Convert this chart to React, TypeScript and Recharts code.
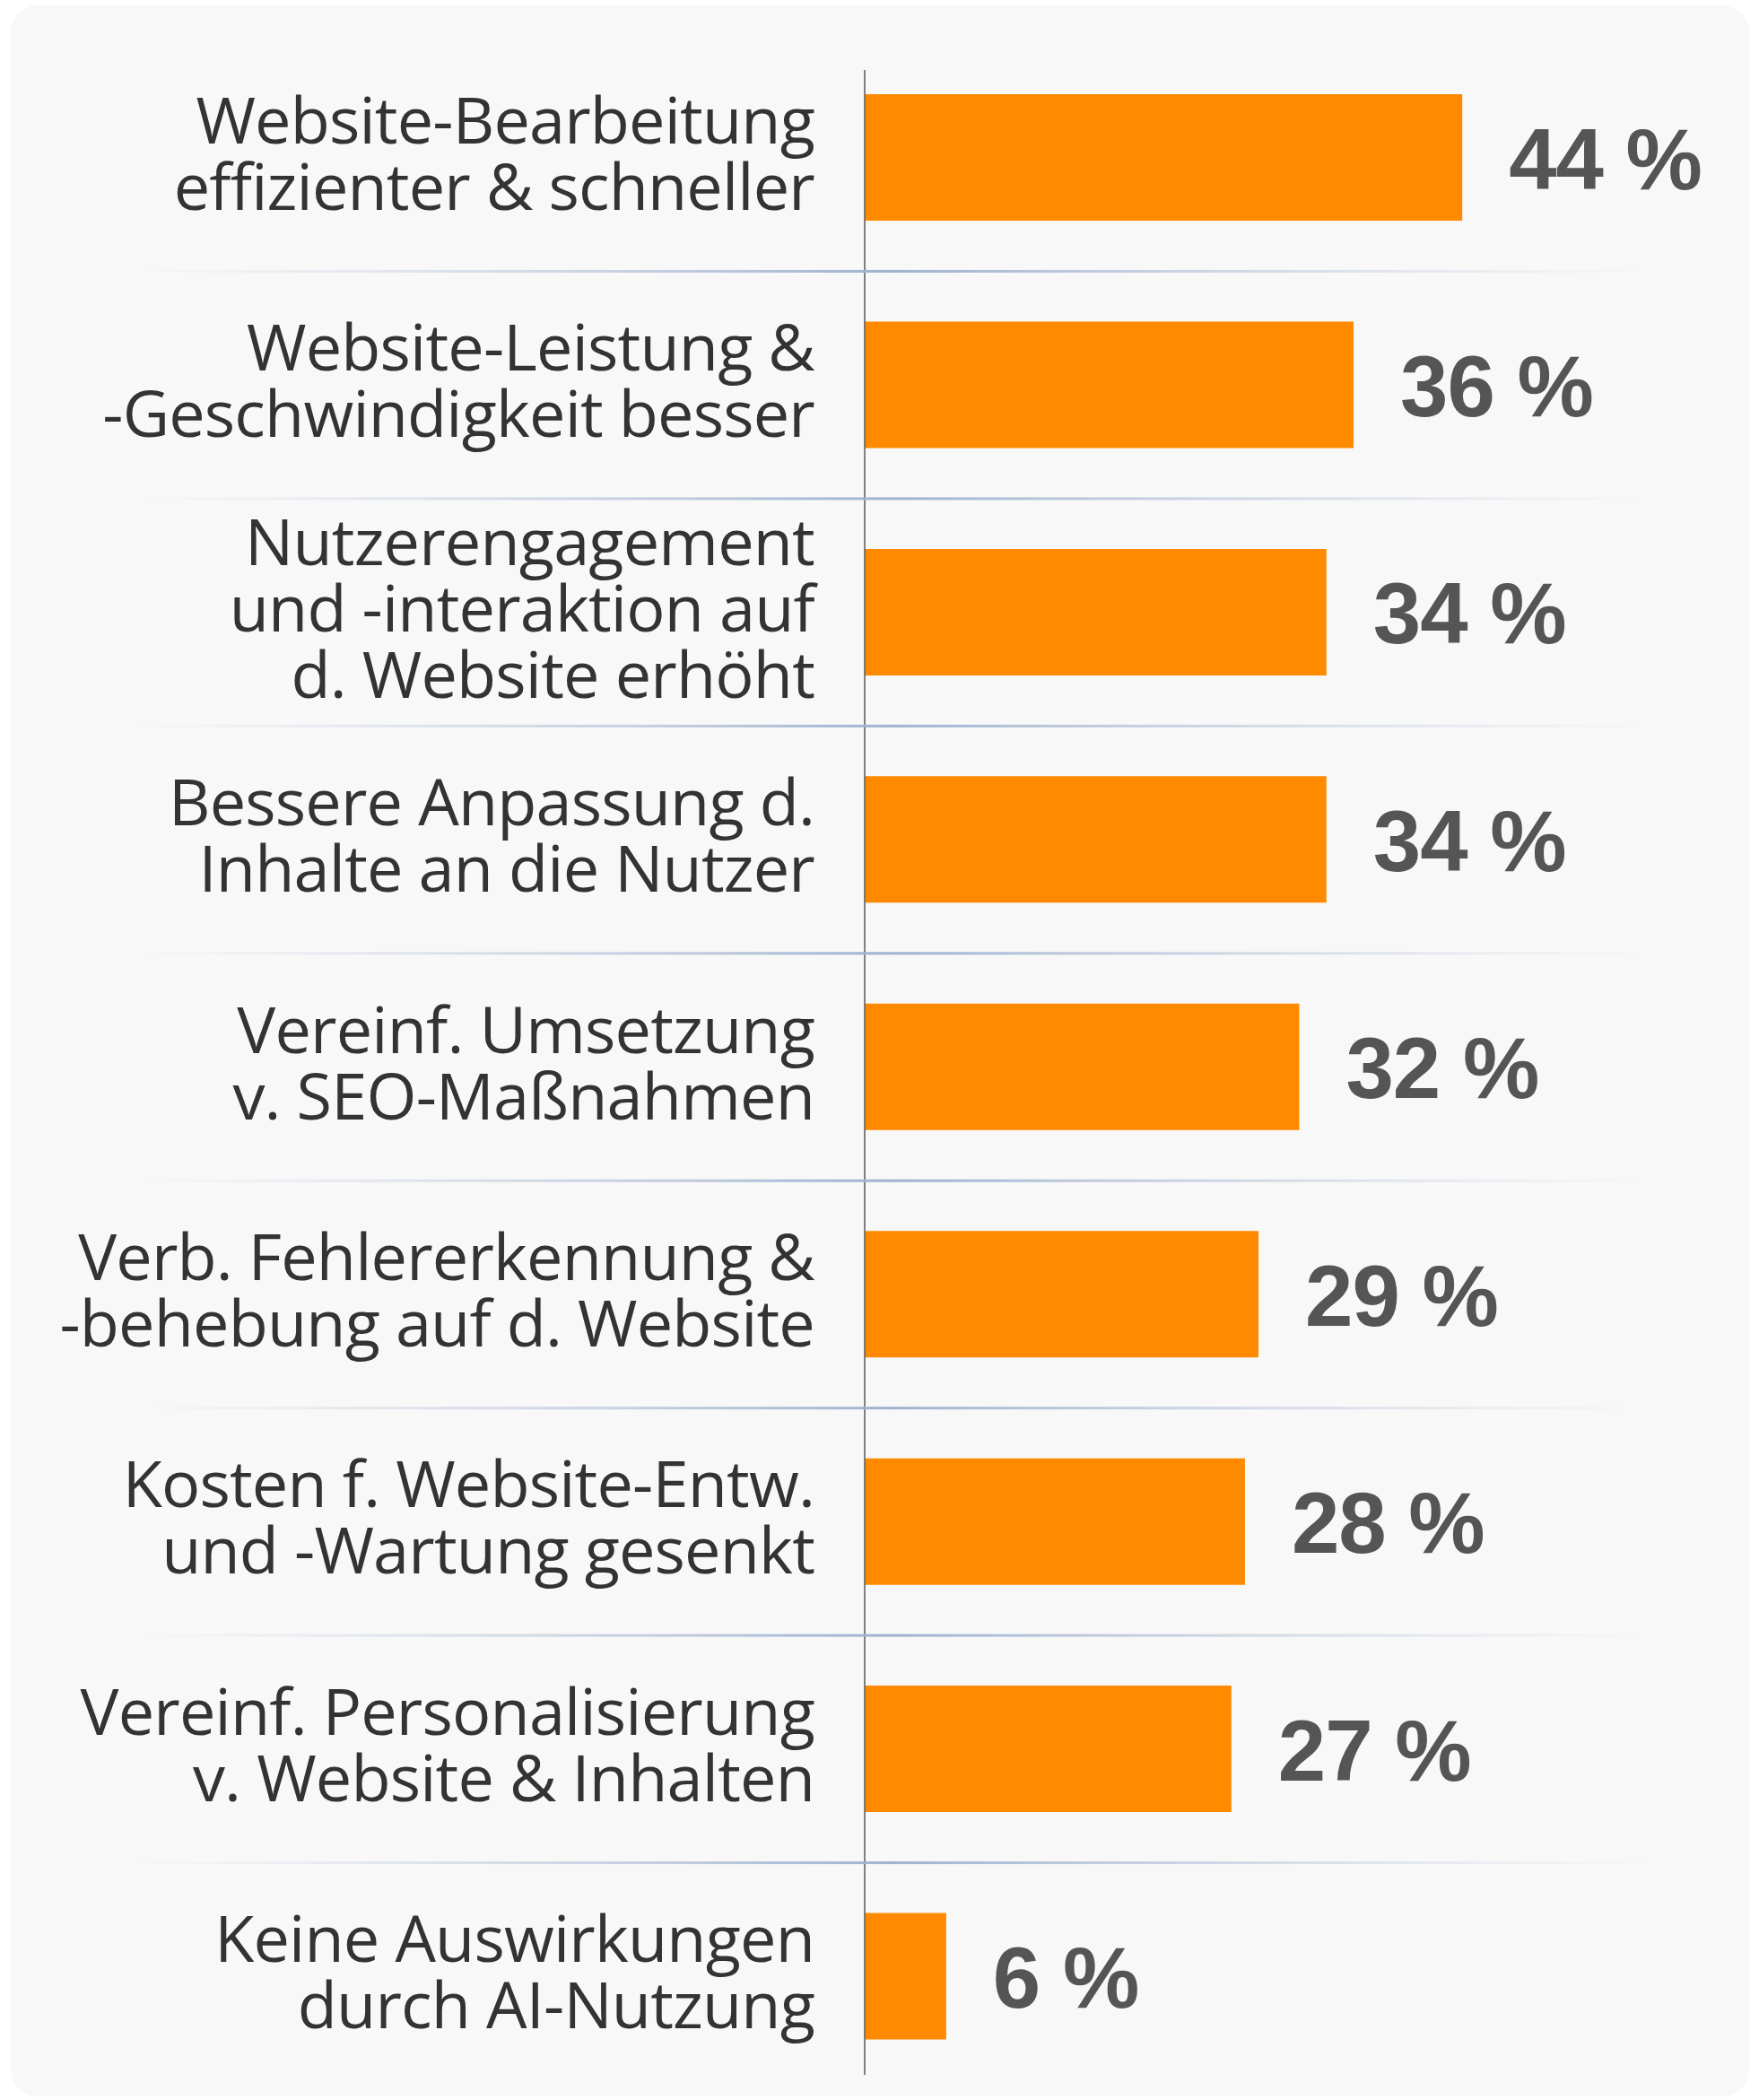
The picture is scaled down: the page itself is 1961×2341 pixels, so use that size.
import React from 'react';
import { BarChart, Bar, XAxis, YAxis, LabelList } from 'recharts';

const categories: string[] = [
  'Website-Bearbeitung\neffizienter & schneller',
  'Website-Leistung &\n-Geschwindigkeit besser',
  'Nutzerengagement\nund -interaktion auf\nd. Website erhöht',
  'Bessere Anpassung d.\nInhalte an die Nutzer',
  'Vereinf. Umsetzung\nv. SEO-Maßnahmen',
  'Verb. Fehlererkennung &\n-behebung auf d. Website',
  'Kosten f. Website-Entw.\nund -Wartung gesenkt',
  'Vereinf. Personalisierung\nv. Website & Inhalten',
  'Keine Auswirkungen\ndurch AI-Nutzung',
];

const values: number[] = [44, 36, 34, 34, 32, 29, 28, 27, 6];

const valueSuffix = ' %';

const data = categories.map((name, i) => ({ name, value: values[i] }));

const CategoryTick = (props: any) => {
  const { x, y, payload, index } = props;
  const lines = String(payload.value).split('\n');
  const half = typeof payload.offset === 'number' && payload.offset > 0 ? payload.offset : 126.7;
  const idx = typeof index === 'number' ? index : payload.index;
  return (
    <g>
      {idx === 0 && (
        <defs>
          <linearGradient id="sepGrad" x1="0" y1="0" x2="1" y2="0">
            <stop offset="0" stopColor="#c9d3e3" stopOpacity={0} />
            <stop offset="0.25" stopColor="#bcc8dc" stopOpacity={0.6} />
            <stop offset="0.5" stopColor="#9fb2d0" stopOpacity={1} />
            <stop offset="0.75" stopColor="#bcc8dc" stopOpacity={0.6} />
            <stop offset="1" stopColor="#c9d3e3" stopOpacity={0} />
          </linearGradient>
        </defs>
      )}
      {idx > 0 && (
        <rect x={138} y={y - half - 1.5} width={1710} height={3} fill="url(#sepGrad)" />
      )}
      <text
        x={x}
        y={y}
        textAnchor="end"
        fill="#333333"
        fontFamily="'Open Sans', sans-serif"
        fontSize={72}
        letterSpacing={-0.8}
      >
        {lines.map((l, i) => (
          <tspan key={i} x={x} y={y + (i - (lines.length - 1) / 2) * 74 + 21}>
            {l}
          </tspan>
        ))}
      </text>
    </g>
  );
};

const ValueLabel = (props: any) => {
  const { x, y, width, height, value } = props;
  return (
    <text
      x={x + width + 52}
      y={y + height / 2 + 35}
      fill="#555555"
      fontFamily="'Liberation Sans', Arial, sans-serif"
      fontWeight={700}
      fontSize={96}
      letterSpacing={-1}
    >
      {value}
      {valueSuffix}
    </text>
  );
};

export default function App() {
  return (
    <div style={{ position: 'absolute', left: 0, top: 0, width: 1961, height: 2341, background: '#ffffff' }}>
      <div
        style={{
          position: 'absolute',
          left: 12,
          top: 6,
          width: 1938,
          height: 2331,
          borderRadius: 30,
          background: '#f8f8f8',
        }}
      />
      <div style={{ position: 'absolute', left: 0, top: 0 }}>
        <BarChart
          width={1961}
          height={2341}
          data={data}
          layout="vertical"
          margin={{ top: 78, right: 240, bottom: 28, left: 0 }}
          barCategoryGap={0}
        >
          <XAxis type="number" domain={[0, 50]} hide />
          <YAxis
            type="category"
            dataKey="name"
            width={964}
            tickSize={0}
            tickMargin={56}
            tickLine={false}
            axisLine={{ stroke: '#5a5a5a', strokeWidth: 1.5 }}
            tick={<CategoryTick />}
            interval={0}
            padding={{ top: -29, bottom: -17 }}
          />
          <Bar dataKey="value" fill="#ff8a00" barSize={141} isAnimationActive={false}>
            <LabelList dataKey="value" content={<ValueLabel />} />
          </Bar>
        </BarChart>
      </div>
    </div>
  );
}
